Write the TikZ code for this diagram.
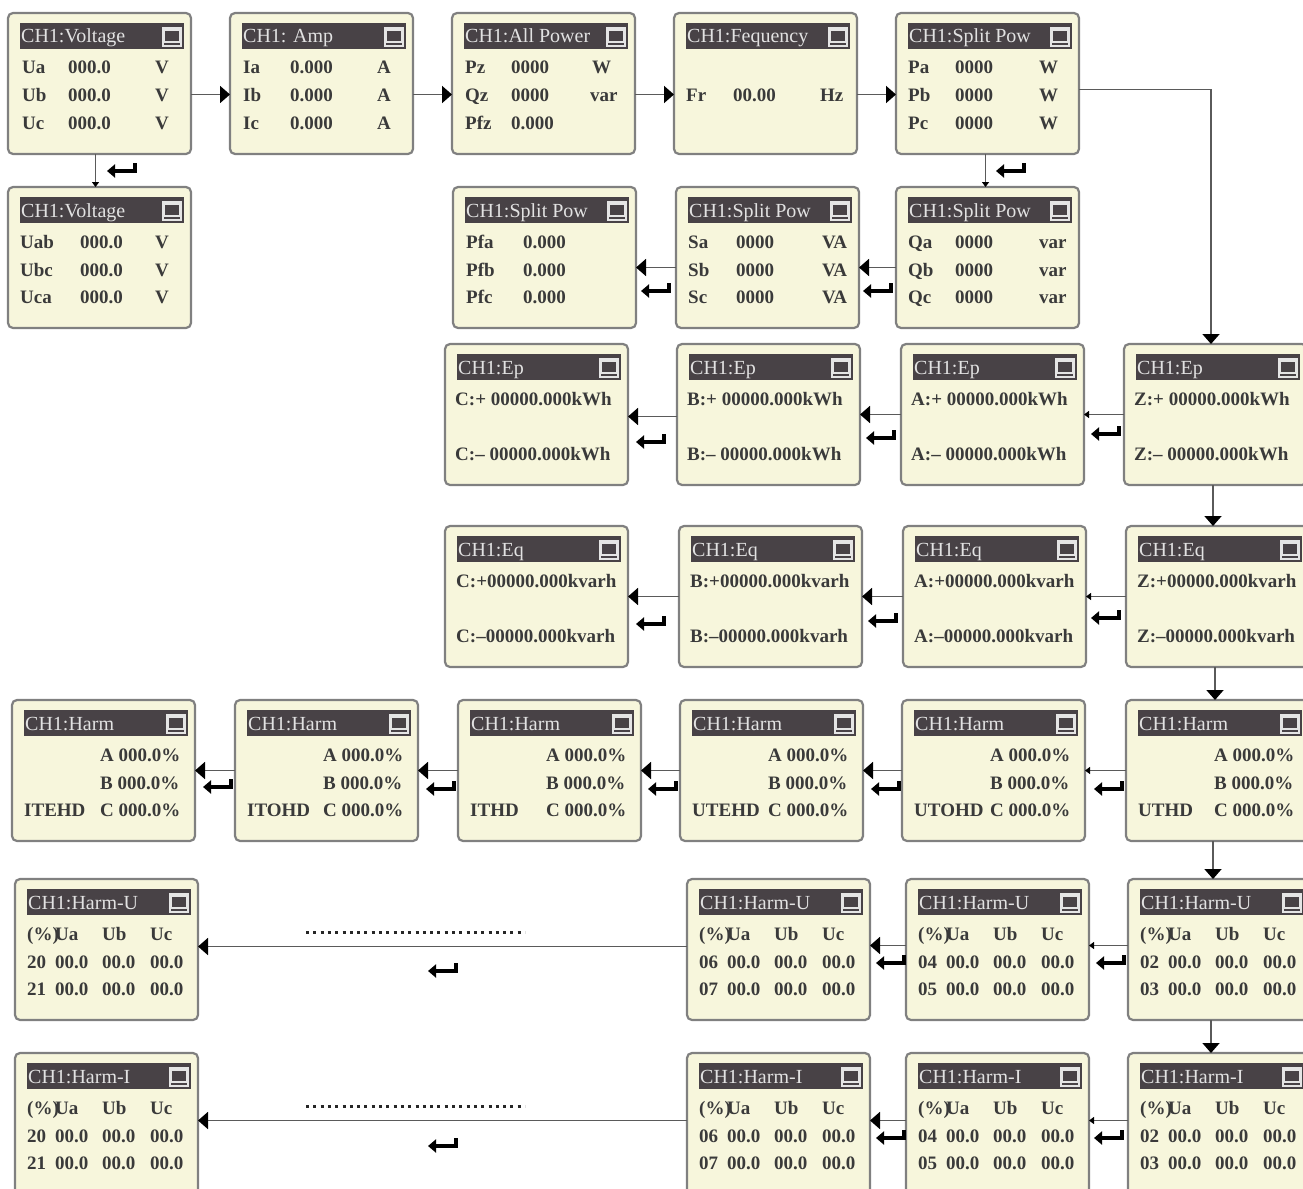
\documentclass[tikz,border=0pt]{standalone}
\usepackage{fontspec}
\setmainfont{Liberation Serif}
\newfontfamily\lcdfont{Liberation Serif}
\usetikzlibrary{arrows.meta}
\definecolor{panelfill}{HTML}{F7F6DC}
\definecolor{paneledge}{HTML}{808080}
\definecolor{barfill}{HTML}{484246}
\definecolor{bartext}{HTML}{E2E2E2}
\definecolor{lcdtext}{HTML}{3A3A3A}
\definecolor{linecol}{HTML}{5A5A5A}
\newcommand\mk[2]{\makebox[#1pt][l]{#2}}
\tikzset{
  panel/.style={rectangle, rounded corners=5pt, draw=paneledge, line width=2.2pt, fill=panelfill,
    minimum width=183pt, minimum height=141pt, anchor=north west, inner sep=0pt, outer sep=0pt},
  tbar/.style={rectangle, fill=barfill, minimum width=164pt, minimum height=26pt, anchor=north west, inner sep=0pt},
  ttext/.style={anchor=base west, inner sep=0pt, text=bartext, font=\lcdfont\fontsize{20}{20}\selectfont},
  cline/.style={anchor=base west, inner sep=0pt, text=lcdtext, font=\lcdfont\bfseries\fontsize{19}{19}\selectfont},
  icon/.style={rectangle, fill=black!10, minimum size=20pt, anchor=north west, inner sep=0pt},
  conn/.style={draw=linecol, line width=1.8pt, -{Triangle[length=10pt,width=17pt,color=black]}},
  sconn/.style={draw=linecol, line width=1.8pt, -{Triangle[length=5pt,width=7pt,color=black]}},
  dots/.style={draw=black!85, line width=3pt, dash pattern=on 3pt off 4.3pt},
  enterkey/.pic={\draw[black, line width=4.5pt, -{Triangle[length=8pt,width=13pt]}] (14,-7) -- (14,1) -- (-14,1);}
}
\newcommand\lcd[8]{%
  \node[panel] (#1) at (#2,#3) {};
  \node[tbar] (#1-bar) at (#2+12,#3+10) {};
  \node[ttext] (#1-title) at (#2+13,#3+30) {#4};
  \node[icon] (#1-icon) at (#2+154,#3+14) {};
  \fill[barfill] (#2+157,#3+18) rectangle (#2+171,#3+28);
  \draw[barfill, line width=1.5pt] (#2+156,#3+31) -- (#2+172,#3+31);
  \node[cline] (#1-a) at (#2+#5,#3+61) {#6};
  \node[cline] (#1-b) at (#2+#5,#3+89) {#7};
  \node[cline] (#1-c) at (#2+#5,#3+116) {#8};
}
\begin{document}
\begin{tikzpicture}[x=1pt,y=-1pt]
\useasboundingbox (0,0) rectangle (1303,1188);
\fill[white] (0,0) rectangle (1303,1188);
\clip (0,0) rectangle (1303,1188);
% row 1
\lcd{V1}{8}{13}{CH1:Voltage}{14}{\mk{46}{Ua}\mk{87}{000.0}V}{\mk{46}{Ub}\mk{87}{000.0}V}{\mk{46}{Uc}\mk{87}{000.0}V}
\lcd{Amp}{230}{13}{CH1: Amp}{13}{\mk{47}{Ia}\mk{87}{0.000}A}{\mk{47}{Ib}\mk{87}{0.000}A}{\mk{47}{Ic}\mk{87}{0.000}A}
\lcd{AP}{452}{13}{CH1:All Power}{13}{\mk{46}{Pz}\mk{81}{0000}W}{\mk{46}{Qz}\mk{79}{0000}var}{\mk{46}{Pfz}0.000}
\lcd{Fr}{674}{13}{CH1:Fequency}{12}{}{\mk{47}{Fr}\mk{87}{00.00}Hz}{}
\lcd{SP}{896}{13}{CH1:Split Pow}{12}{\mk{47}{Pa}\mk{84}{0000}W}{\mk{47}{Pb}\mk{84}{0000}W}{\mk{47}{Pc}\mk{84}{0000}W}
% row 2
\lcd{V2}{8}{187}{CH1:Voltage}{12}{\mk{60}{Uab}\mk{75}{000.0}V}{\mk{60}{Ubc}\mk{75}{000.0}V}{\mk{60}{Uca}\mk{75}{000.0}V}
\lcd{SPf}{453}{187}{CH1:Split Pow}{13}{\mk{57}{Pfa}0.000}{\mk{57}{Pfb}0.000}{\mk{57}{Pfc}0.000}
\lcd{SS}{676}{187}{CH1:Split Pow}{12}{\mk{48}{Sa}\mk{86}{0000}VA}{\mk{48}{Sb}\mk{86}{0000}VA}{\mk{48}{Sc}\mk{86}{0000}VA}
\lcd{SQ}{896}{187}{CH1:Split Pow}{12}{\mk{47}{Qa}\mk{84}{0000}var}{\mk{47}{Qb}\mk{84}{0000}var}{\mk{47}{Qc}\mk{84}{0000}var}
% row 3 Ep
\lcd{EpC}{445}{344}{CH1:Ep}{10}{C:+ 00000.000kWh}{}{C:– 00000.000kWh}
\lcd{EpB}{677}{344}{CH1:Ep}{10}{B:+ 00000.000kWh}{}{B:– 00000.000kWh}
\lcd{EpA}{901}{344}{CH1:Ep}{10}{A:+ 00000.000kWh}{}{A:– 00000.000kWh}
\lcd{EpZ}{1124}{344}{CH1:Ep}{10}{Z:+ 00000.000kWh}{}{Z:– 00000.000kWh}
% row 4 Eq
\lcd{EqC}{445}{526}{CH1:Eq}{11}{C:+00000.000kvarh}{}{C:–00000.000kvarh}
\lcd{EqB}{679}{526}{CH1:Eq}{11}{B:+00000.000kvarh}{}{B:–00000.000kvarh}
\lcd{EqA}{903}{526}{CH1:Eq}{11}{A:+00000.000kvarh}{}{A:–00000.000kvarh}
\lcd{EqZ}{1126}{526}{CH1:Eq}{11}{Z:+00000.000kvarh}{}{Z:–00000.000kvarh}
% row 5 Harm
\lcd{H1}{12}{700}{CH1:Harm}{12}{\mk{76}{}A 000.0\%}{\mk{76}{}B 000.0\%}{\mk{76}{ITEHD}C 000.0\%}
\lcd{H2}{235}{700}{CH1:Harm}{12}{\mk{76}{}A 000.0\%}{\mk{76}{}B 000.0\%}{\mk{76}{ITOHD}C 000.0\%}
\lcd{H3}{458}{700}{CH1:Harm}{12}{\mk{76}{}A 000.0\%}{\mk{76}{}B 000.0\%}{\mk{76}{ITHD}C 000.0\%}
\lcd{H4}{680}{700}{CH1:Harm}{12}{\mk{76}{}A 000.0\%}{\mk{76}{}B 000.0\%}{\mk{76}{UTEHD}C 000.0\%}
\lcd{H5}{902}{700}{CH1:Harm}{12}{\mk{76}{}A 000.0\%}{\mk{76}{}B 000.0\%}{\mk{76}{UTOHD}C 000.0\%}
\lcd{H6}{1126}{700}{CH1:Harm}{12}{\mk{76}{}A 000.0\%}{\mk{76}{}B 000.0\%}{\mk{76}{UTHD}C 000.0\%}
% row 6 Harm-U
\lcd{HU4}{15}{879}{CH1:Harm-U}{12}{\mk{28}{(\%)}\mk{47}{Ua}\mk{48}{Ub}Uc}{\mk{28}{20}\mk{47}{00.0}\mk{48}{00.0}00.0}{\mk{28}{21}\mk{47}{00.0}\mk{48}{00.0}00.0}
\lcd{HU3}{687}{879}{CH1:Harm-U}{12}{\mk{28}{(\%)}\mk{47}{Ua}\mk{48}{Ub}Uc}{\mk{28}{06}\mk{47}{00.0}\mk{48}{00.0}00.0}{\mk{28}{07}\mk{47}{00.0}\mk{48}{00.0}00.0}
\lcd{HU2}{906}{879}{CH1:Harm-U}{12}{\mk{28}{(\%)}\mk{47}{Ua}\mk{48}{Ub}Uc}{\mk{28}{04}\mk{47}{00.0}\mk{48}{00.0}00.0}{\mk{28}{05}\mk{47}{00.0}\mk{48}{00.0}00.0}
\lcd{HU1}{1128}{879}{CH1:Harm-U}{12}{\mk{28}{(\%)}\mk{47}{Ua}\mk{48}{Ub}Uc}{\mk{28}{02}\mk{47}{00.0}\mk{48}{00.0}00.0}{\mk{28}{03}\mk{47}{00.0}\mk{48}{00.0}00.0}
% row 7 Harm-I
\lcd{HI4}{15}{1053}{CH1:Harm-I}{12}{\mk{28}{(\%)}\mk{47}{Ua}\mk{48}{Ub}Uc}{\mk{28}{20}\mk{47}{00.0}\mk{48}{00.0}00.0}{\mk{28}{21}\mk{47}{00.0}\mk{48}{00.0}00.0}
\lcd{HI3}{687}{1053}{CH1:Harm-I}{12}{\mk{28}{(\%)}\mk{47}{Ua}\mk{48}{Ub}Uc}{\mk{28}{06}\mk{47}{00.0}\mk{48}{00.0}00.0}{\mk{28}{07}\mk{47}{00.0}\mk{48}{00.0}00.0}
\lcd{HI2}{906}{1053}{CH1:Harm-I}{12}{\mk{28}{(\%)}\mk{47}{Ua}\mk{48}{Ub}Uc}{\mk{28}{04}\mk{47}{00.0}\mk{48}{00.0}00.0}{\mk{28}{05}\mk{47}{00.0}\mk{48}{00.0}00.0}
\lcd{HI1}{1128}{1053}{CH1:Harm-I}{12}{\mk{28}{(\%)}\mk{47}{Ua}\mk{48}{Ub}Uc}{\mk{28}{02}\mk{47}{00.0}\mk{48}{00.0}00.0}{\mk{28}{03}\mk{47}{00.0}\mk{48}{00.0}00.0}
% connectors row 1
\draw[conn] ([yshift=-11pt]V1.east) -- ([yshift=-11pt]Amp.west);
\draw[conn] ([yshift=-11pt]Amp.east) -- ([yshift=-11pt]AP.west);
\draw[conn] ([yshift=-11pt]AP.east) -- ([yshift=-11pt]Fr.west);
\draw[conn] ([yshift=-11pt]Fr.east) -- ([yshift=-11pt]SP.west);
\draw[sconn] ([xshift=-4pt]V1.south) -- ([xshift=-4pt]V2.north);
\pic at (121,170) {enterkey};
\draw[sconn] ([xshift=-2pt]SP.south) -- ([xshift=-2pt]SQ.north);
\pic at (1010,170) {enterkey};
% row 2
\draw[conn] ([yshift=-10pt]SQ.west) -- ([yshift=-10pt]SS.east);
\pic at (877,290) {enterkey};
\draw[conn] ([yshift=-10pt]SS.west) -- ([yshift=-10pt]SPf.east);
\pic at (655,290) {enterkey};
% to Ep
\draw[conn] ([yshift=-6pt]SP.east) -| ([xshift=-4.5pt]EpZ.north);
% Ep row
\draw[sconn] (EpZ.west) -- (EpA.east);
\pic at (1105,433) {enterkey};
\draw[conn] (EpA.west) -- (EpB.east);
\pic at (880,437) {enterkey};
\draw[conn] ([yshift=-2pt]EpB.west) -- ([yshift=-2pt]EpC.east);
\pic at (650,441) {enterkey};
\draw[conn] ([xshift=-2.5pt]EpZ.south) -- ([xshift=-4.5pt]EqZ.north);
% Eq row
\draw[sconn] (EqZ.west) -- (EqA.east);
\pic at (1105,617) {enterkey};
\draw[conn] (EqA.west) -- (EqB.east);
\pic at (882,620) {enterkey};
\draw[conn] (EqB.west) -- (EqC.east);
\pic at (650,623) {enterkey};
\draw[conn] ([xshift=-2.5pt]EqZ.south) -- ([xshift=-2.5pt]H6.north);
% Harm row
\draw[sconn] (H6.west) -- (H5.east);
\pic at (1108,788) {enterkey};
\draw[conn] (H5.west) -- (H4.east);
\pic at (885,788) {enterkey};
\draw[conn] (H4.west) -- (H3.east);
\pic at (662,788) {enterkey};
\draw[conn] (H3.west) -- (H2.east);
\pic at (440,788) {enterkey};
\draw[conn] (H2.west) -- (H1.east);
\pic at (217,786) {enterkey};
\draw[conn] ([xshift=-4.5pt]H6.south) -- ([xshift=-6.5pt]HU1.north);
% Harm-U row
\draw[sconn] ([yshift=4pt]HU1.west) -- ([yshift=4pt]HU2.east);
\pic at (1110,962) {enterkey};
\draw[conn] ([yshift=4pt]HU2.west) -- ([yshift=4pt]HU3.east);
\pic at (890,962) {enterkey};
\draw[conn] ([yshift=3pt]HU3.west) -- ([yshift=3pt]HU4.east);
\draw[dots] (306,932) -- (525,932);
\pic at (442,970) {enterkey};
\draw[conn] ([xshift=-8.5pt]HU1.south) -- ([xshift=-8.5pt]HI1.north);
% Harm-I row
\draw[sconn] ([yshift=3pt]HI1.west) -- ([yshift=3pt]HI2.east);
\pic at (1108,1137) {enterkey};
\draw[conn] ([yshift=3pt]HI2.west) -- ([yshift=3pt]HI3.east);
\pic at (890,1137) {enterkey};
\draw[conn] ([yshift=3pt]HI3.west) -- ([yshift=3pt]HI4.east);
\draw[dots] (306,1106) -- (525,1106);
\pic at (442,1145) {enterkey};
\end{tikzpicture}
\end{document}
